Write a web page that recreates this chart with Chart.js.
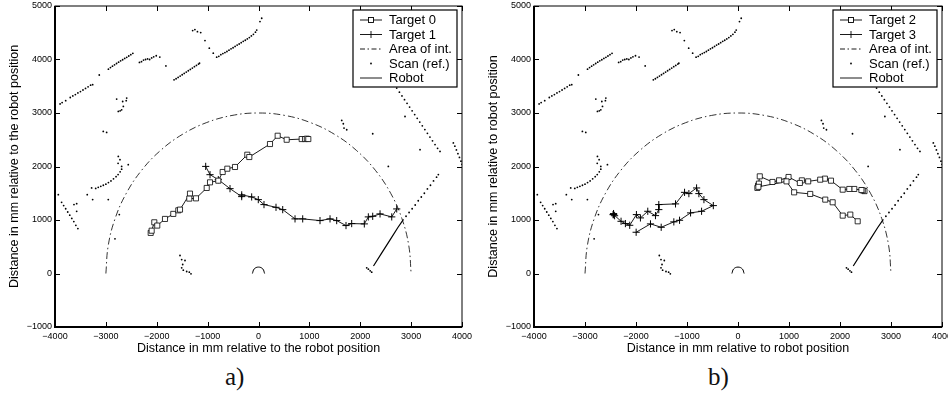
<!DOCTYPE html>
<html>
<head>
<meta charset="utf-8">
<script src="https://cdn.jsdelivr.net/npm/chart.js@4.4.1/dist/chart.umd.min.js"></script>
<style>
body { margin: 0; background: #fff; width: 948px; height: 398px; position: relative; overflow: hidden; }
.panel { position: absolute; top: 0; }
#pa { left: 0; }
#pb { left: 479px; }
.cap { position: absolute; top: 362px; font-family: "Liberation Serif", "DejaVu Serif", serif; font-size: 25px; line-height: 30px; color: #111; }
</style>
</head>
<body>
<canvas id="pa" class="panel" width="474" height="362"></canvas>
<canvas id="pb" class="panel" width="469" height="362"></canvas>
<div class="cap" style="left:225px">a)</div>
<div class="cap" style="left:708px">b)</div>
<script>
// axes
const xTicks = [-4000, -3000, -2000, -1000, 0, 1000, 2000, 3000, 4000];
const yTicks = [-1000, 0, 1000, 2000, 3000, 4000, 5000];

// tracks of the targets (mm)
const target0 = [[-2119,759],[-2100,800],[-2048,957],[-1990,896],[-1838,1020],[-1675,1114],[-1576,1181],[-1543,1194],
  [-1347,1493],[-1360,1400],[-1229,1405],[-1018,1599],[-953,1704],[-790,1735],[-704,1897],[-613,1959],[-462,1991],
  [-220,2220],[-181,2177],[226,2420],[377,2575],[554,2500],[849,2513],[914,2513],[950,2520],[979,2513]];
const target1 = [[-1038,2002],[-953,1847],[-790,1754],[-560,1586],[-330,1437],[-330,1470],[-134,1431],[-4,1381],
  [108,1288],[344,1237],[476,1194],[718,1021],[869,1021],[1209,989],[1406,1021],[1537,989],[1720,896],[1832,933],
  [2080,927],[2159,1058],[2245,1069],[2389,1114],[2619,1058],[2717,1207]];
const target2 = [[2480,1540],[2446,1554],[2420,1560],[2280,1580],[2182,1580],[2053,1567],[1823,1735],[1704,1773],
  [1612,1754],[1376,1722],[1252,1741],[1213,1692],[991,1804],[806,1741],[676,1711],[427,1816],[393,1642],[380,1600],
  [410,1680],[400,1620],[951,1722],[1101,1517],[1416,1487],[1711,1381],[1856,1331],[2053,1082],[2202,1101],[2347,976]];
const target3 = [[-1997,771],[-1716,927],[-1506,864],[-1258,965],[-1146,995],[-930,1133],[-714,1163],[-484,1269],
  [-668,1381],[-767,1493],[-812,1599],[-963,1493],[-1048,1517],[-1225,1301],[-1553,1288],[-1553,1194],[-1618,1082],
  [-1769,1163],[-1913,1039],[-1992,1101],[-2123,901],[-2208,933],[-2293,976],[-2438,1101],[-2440,1120],[-2420,1080],[-2450,1100]];

// area of interest (r = 3000) and robot outline
const areaOfInt = [[-3000,0],[-2954,521],[-2819,1026],[-2598,1500],[-2298,1928],[-1928,2298],[-1500,2598],[-1026,2819],
  [-521,2954],[0,3000],[521,2954],[1026,2819],[1500,2598],[1928,2298],[2298,1928],[2598,1500],[2819,1026],[2954,521],[3000,0]];
const robot = [[-120,0],[-85,85],[0,120],[85,85],[120,0]];

// reference scan
const scan = [
  [-3900,3170],[-3860,3195],[-3790,3230],
  [-3700,3290],[-3650,3320],[-3600,3345],[-3550,3375],[-3500,3400],[-3450,3430],[-3400,3460],[-3350,3490],[-3300,3520],[-3260,3530],
  [-3130,3710],
  [-2950,3820],[-2910,3850],[-2870,3875],[-2830,3900],[-2790,3925],[-2750,3950],[-2710,3975],[-2670,3995],[-2630,4020],
  [-2590,4040],[-2550,4065],[-2510,4090],[-2470,4115],
  [-2340,3945],[-2300,3960],[-2260,3990],[-2220,4000],[-2180,4010],[-2140,4000],[-2100,4030],[-2060,4050],[-2010,4070],
  [-1940,4045],[-1820,3880],
  [-1660,3620],[-1620,3640],[-1580,3665],[-1540,3690],[-1500,3715],[-1460,3740],[-1420,3765],[-1380,3790],[-1340,3815],
  [-1300,3840],[-1260,3865],[-1220,3890],[-1180,3915],[-1160,3930],
  [-1294,4540],[-1250,4560],[-1200,4520],[-1136,4503],
  [-1052,4354],[-967,4212],[-889,4118],[-822,4044],
  [-780,4060],[-740,4090],[-700,4110],[-660,4130],[-620,4150],[-580,4175],[-540,4200],[-500,4220],[-460,4245],[-420,4270],
  [-380,4290],[-340,4315],[-300,4340],[-260,4360],[-220,4385],[-180,4410],[-140,4440],[-100,4470],[-60,4510],[-35,4550],
  [29,4708],[63,4771],
  [-2788,3260],[-2670,3215],[-2591,3279],[-2600,3230],[-2756,3029],[-2720,3040],[-2690,3060],[-2657,3122],
  [-3051,2655],[-2985,2637],
  [-2756,2189],[-2723,2127],[-2760,2060],[-2690,2002],[-2560,2034],
  [-3280,1599],[-3200,1590],[-3150,1610],[-3100,1630],[-3050,1650],[-3000,1670],[-2950,1700],[-2900,1730],[-2850,1770],
  [-2800,1810],[-2760,1850],[-2720,1900],[-2690,1950],
  [-3366,1474],[-3260,1381],[-2953,1381],[-3935,1474],
  [-3870,1330],[-3830,1270],[-3790,1210],[-3750,1150],[-3710,1090],[-3670,1030],[-3630,970],[-3590,900],[-3550,840],
  [-3627,1288],[-3574,1306],[-3574,1163],[-2821,648],[-2736,1101],
  [-1543,336],[-1510,261],[-1445,243],[-1490,168],[-1510,106],[-1478,62],[-1412,37],[-1360,24],[-1327,-6],
  [1636,2861],[1667,2799],[1681,2719],[1734,2687],[2245,2612],
  [2717,3465],[2770,3390],[2820,3320],[2870,3250],[2920,3180],[2970,3110],[3020,3040],[3070,2970],[3120,2900],[3170,2830],
  [3220,2760],[3270,2690],[3320,2620],[3370,2550],[3420,2480],[3470,2410],[3520,2340],[3568,2282],
  [2880,2935],[3175,2314],[2552,2002],
  [3830,2440],[3860,2380],[3890,2310],[3920,2240],[3950,2170],[3980,2100],[4000,2040],
  [2900,1070],[2960,1140],[3020,1210],[3080,1280],[3140,1360],[3200,1430],[3260,1500],[3320,1580],[3380,1650],
  [3440,1730],[3500,1800],[3535,1850],
  [2127,106],[2160,80],[2195,50],[2225,24]
];
// dense part of the scan (looks solid)
const scanWall = [[2260,140],[2420,380],[2580,620],[2740,860],[2850,1010]];

function pts(arr) {
  return arr.map(p => ({ x: p[0], y: p[1] }));
}

function fmt(v) {
  return v < 0 ? '\u2212' + Math.abs(v) : String(v);
}

// common parts of both panels
function sharedSets() {
  return [
    { label: 'Area of int.', data: pts(areaOfInt), showLine: true, borderColor: '#000', borderWidth: 0.8,
      borderDash: [7, 3, 1.5, 3], tension: 0.4, pointRadius: 0 },
    { label: 'Scan (ref.)', data: pts(scan), showLine: false, pointRadius: 0.9, pointBackgroundColor: '#000',
      pointBorderWidth: 0 },
    { label: 'wall', data: pts(scanWall), showLine: true, borderColor: '#000', borderWidth: 1.2, pointRadius: 0 },
    { label: 'Robot', data: pts(robot), showLine: true, borderColor: '#000', borderWidth: 1, tension: 0.4, pointRadius: 0 }
  ];
}

function squareSet(label, d) {
  return { label: label, data: pts(d), showLine: true, borderColor: '#000', borderWidth: 0.9, pointStyle: 'rect',
    pointRadius: 3.6, pointBackgroundColor: '#fff', pointBorderColor: '#000', pointBorderWidth: 0.8 };
}

function plusSet(label, d) {
  return { label: label, data: pts(d), showLine: true, borderColor: '#000', borderWidth: 0.9, pointStyle: 'cross',
    pointRadius: 3.6, pointBorderColor: '#000', pointBorderWidth: 1 };
}

// frame and inward ticks, matlab style
const frame = {
  id: 'frame',
  afterDatasetsDraw(chart) {
    const a = chart.chartArea, ctx = chart.ctx, xs = chart.scales.x, ys = chart.scales.y;
    ctx.save();
    ctx.strokeStyle = '#000';
    ctx.lineWidth = 1;
    ctx.beginPath();
    xTicks.forEach(v => {
      const px = Math.round(xs.getPixelForValue(v)) + 0.5;
      ctx.moveTo(px, a.bottom); ctx.lineTo(px, a.bottom - 5);
      ctx.moveTo(px, a.top); ctx.lineTo(px, a.top + 5);
    });
    yTicks.forEach(v => {
      const py = Math.round(ys.getPixelForValue(v)) + 0.5;
      ctx.moveTo(a.left, py); ctx.lineTo(a.left + 5, py);
      ctx.moveTo(a.right, py); ctx.lineTo(a.right - 5, py);
    });
    ctx.stroke();
    ctx.strokeRect(a.left, a.top, a.right - a.left, a.bottom - a.top);
    ctx.lineWidth = 2;
    ctx.beginPath();
    ctx.moveTo(a.left, a.top); ctx.lineTo(a.left, a.bottom); ctx.lineTo(a.right, a.bottom);
    ctx.stroke();
    ctx.restore();
  }
};

// legend box inside the plot
const boxLegend = {
  id: 'boxLegend',
  afterDraw(chart, args, opts) {
    const a = chart.chartArea, ctx = chart.ctx;
    const w = 104, h = 77, rowH = 14.5;
    const x0 = a.right - 5 - w, y0 = a.top + 4;
    ctx.save();
    ctx.fillStyle = '#fff';
    ctx.fillRect(x0, y0, w, h);
    ctx.strokeStyle = '#000';
    ctx.lineWidth = 1.2;
    ctx.strokeRect(x0, y0, w, h);
    ctx.font = '13px "Liberation Sans", Arial, sans-serif';
    ctx.textBaseline = 'middle';
    opts.items.forEach((it, i) => {
      const cy = y0 + 10 + i * rowH;
      const lx0 = x0 + 7, lx1 = x0 + 29, mx = (lx0 + lx1) / 2;
      ctx.strokeStyle = '#000';
      ctx.lineWidth = 0.9;
      ctx.setLineDash(it.kind === 'dashdot' ? [5, 2.5, 1.5, 2.5] : []);
      if (it.kind !== 'dot') {
        ctx.beginPath(); ctx.moveTo(lx0, cy); ctx.lineTo(lx1, cy); ctx.stroke();
      }
      ctx.setLineDash([]);
      if (it.kind === 'square') {
        ctx.fillStyle = '#fff';
        ctx.fillRect(mx - 2.5, cy - 2.5, 5, 5);
        ctx.strokeRect(mx - 2.5, cy - 2.5, 5, 5);
      } else if (it.kind === 'plus') {
        ctx.beginPath(); ctx.moveTo(mx, cy - 3.5); ctx.lineTo(mx, cy + 3.5); ctx.stroke();
      } else if (it.kind === 'dot') {
        ctx.fillStyle = '#000';
        ctx.beginPath(); ctx.arc(mx, cy, 0.9, 0, Math.PI * 2); ctx.fill();
      }
      ctx.fillStyle = '#000';
      ctx.fillText(it.label, x0 + 36, cy + 0.5);
    });
    ctx.restore();
  }
};

function panelOptions(yTitle, xTitle, padRight, items) {
  return {
    responsive: false,
    animation: false,
    layout: { padding: { top: 6, right: padRight, left: 0, bottom: 0 } },
    plugins: { legend: { display: false }, tooltip: { enabled: false }, boxLegend: { items: items } },
    scales: {
      x: {
        type: 'linear', min: -4000, max: 4000,
        grid: { display: false, drawTicks: false }, border: { display: false },
        ticks: { stepSize: 1000, padding: 4, color: '#000', maxRotation: 0, autoSkip: false,
          font: { size: 9, family: 'Liberation Sans' }, callback: fmt },
        title: { display: true, text: xTitle, color: '#000', padding: { top: 0, bottom: 6 },
          font: { size: 12.5, family: 'Liberation Sans' } },
        afterFit: s => { s.height = 35; s.paddingLeft = 0; s.paddingRight = 0; }
      },
      y: {
        type: 'linear', min: -1000, max: 5000,
        grid: { display: false, drawTicks: false }, border: { display: false },
        ticks: { stepSize: 1000, padding: 3, color: '#000', autoSkip: false,
          font: { size: 9, family: 'Liberation Sans' }, callback: fmt },
        title: { display: true, text: yTitle, color: '#000', padding: { top: 7, bottom: 0 },
          font: { size: 12.5, family: 'Liberation Sans' } },
        afterFit: s => { s.width = 55; s.paddingTop = 0; s.paddingBottom = 0; }
      }
    }
  };
}

new Chart(document.getElementById('pa'), {
  type: 'scatter',
  data: { datasets: [squareSet('Target 0', target0), plusSet('Target 1', target1)].concat(sharedSets()) },
  options: panelOptions('Distance in mm relative to the robot position', 'Distance in mm relative to the robot position', 12, [
    { label: 'Target 0', kind: 'square' }, { label: 'Target 1', kind: 'plus' }, { label: 'Area of int.', kind: 'dashdot' },
    { label: 'Scan (ref.)', kind: 'dot' }, { label: 'Robot', kind: 'line' }
  ]),
  plugins: [frame, boxLegend]
});

new Chart(document.getElementById('pb'), {
  type: 'scatter',
  data: { datasets: [squareSet('Target 2', target2), plusSet('Target 3', target3)].concat(sharedSets()) },
  options: panelOptions('Distance in mm relative to robot position', 'Distance in mm relative to robot position', 6, [
    { label: 'Target 2', kind: 'square' }, { label: 'Target 3', kind: 'plus' }, { label: 'Area of int.', kind: 'dashdot' },
    { label: 'Scan (ref.)', kind: 'dot' }, { label: 'Robot', kind: 'line' }
  ]),
  plugins: [frame, boxLegend]
});
</script>
</body>
</html>
